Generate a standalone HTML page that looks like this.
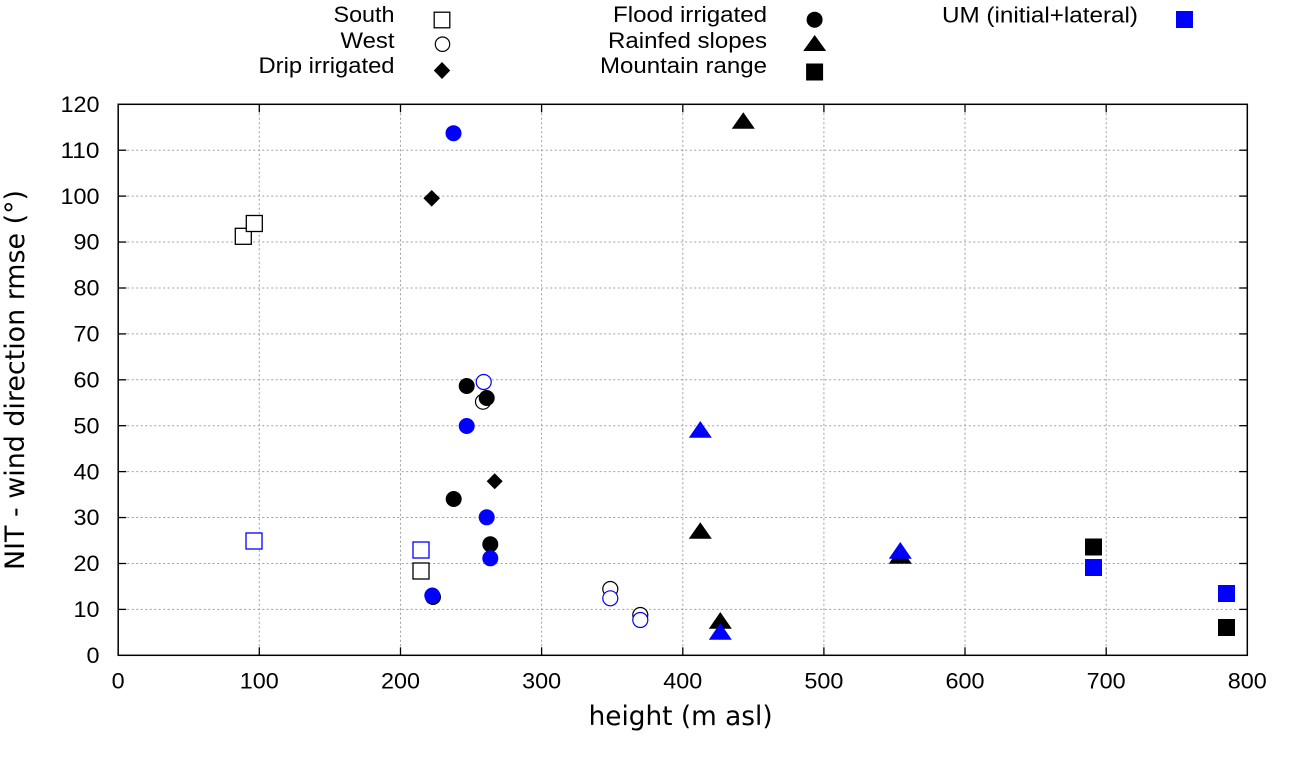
<!DOCTYPE html>
<html>
<head>
<meta charset="utf-8">
<style>
html,body{margin:0;padding:0;background:#fff;}
svg{display:block;}
text{font-family:"Liberation Sans",sans-serif;fill:#000;}
.t{font-size:22.5px;}
.lg{font-size:22.5px;}
.ax{font-family:"DejaVu Sans","Liberation Sans",sans-serif;font-size:27px;}
</style>
</head>
<body>
<svg width="1290" height="760" viewBox="0 0 1290 760" xmlns="http://www.w3.org/2000/svg">
<rect x="0" y="0" width="1290" height="760" fill="#fff"/>

<!-- grid -->
<g stroke="#a0a0a0" stroke-width="1" stroke-dasharray="2,2.5" fill="none">
<line x1="259.3" y1="104.3" x2="259.3" y2="655.3"/>
<line x1="400.5" y1="104.3" x2="400.5" y2="655.3"/>
<line x1="541.6" y1="104.3" x2="541.6" y2="655.3"/>
<line x1="682.8" y1="104.3" x2="682.8" y2="655.3"/>
<line x1="823.9" y1="104.3" x2="823.9" y2="655.3"/>
<line x1="965.0" y1="104.3" x2="965.0" y2="655.3"/>
<line x1="1106.2" y1="104.3" x2="1106.2" y2="655.3"/>
<line x1="118.2" y1="609.4" x2="1247.3" y2="609.4"/>
<line x1="118.2" y1="563.5" x2="1247.3" y2="563.5"/>
<line x1="118.2" y1="517.55" x2="1247.3" y2="517.55"/>
<line x1="118.2" y1="471.6" x2="1247.3" y2="471.6"/>
<line x1="118.2" y1="425.7" x2="1247.3" y2="425.7"/>
<line x1="118.2" y1="379.8" x2="1247.3" y2="379.8"/>
<line x1="118.2" y1="333.9" x2="1247.3" y2="333.9"/>
<line x1="118.2" y1="288.0" x2="1247.3" y2="288.0"/>
<line x1="118.2" y1="242.05" x2="1247.3" y2="242.05"/>
<line x1="118.2" y1="196.1" x2="1247.3" y2="196.1"/>
<line x1="118.2" y1="150.2" x2="1247.3" y2="150.2"/>
</g>

<!-- ticks -->
<g stroke="#000" stroke-width="1.3">
<line x1="259.3" y1="655.3" x2="259.3" y2="647.3"/><line x1="259.3" y1="104.3" x2="259.3" y2="112.3"/>
<line x1="400.5" y1="655.3" x2="400.5" y2="647.3"/><line x1="400.5" y1="104.3" x2="400.5" y2="112.3"/>
<line x1="541.6" y1="655.3" x2="541.6" y2="647.3"/><line x1="541.6" y1="104.3" x2="541.6" y2="112.3"/>
<line x1="682.8" y1="655.3" x2="682.8" y2="647.3"/><line x1="682.8" y1="104.3" x2="682.8" y2="112.3"/>
<line x1="823.9" y1="655.3" x2="823.9" y2="647.3"/><line x1="823.9" y1="104.3" x2="823.9" y2="112.3"/>
<line x1="965.0" y1="655.3" x2="965.0" y2="647.3"/><line x1="965.0" y1="104.3" x2="965.0" y2="112.3"/>
<line x1="1106.2" y1="655.3" x2="1106.2" y2="647.3"/><line x1="1106.2" y1="104.3" x2="1106.2" y2="112.3"/>
<line x1="118.2" y1="609.4" x2="126.2" y2="609.4"/><line x1="1247.3" y1="609.4" x2="1239.3" y2="609.4"/>
<line x1="118.2" y1="563.5" x2="126.2" y2="563.5"/><line x1="1247.3" y1="563.5" x2="1239.3" y2="563.5"/>
<line x1="118.2" y1="517.55" x2="126.2" y2="517.55"/><line x1="1247.3" y1="517.55" x2="1239.3" y2="517.55"/>
<line x1="118.2" y1="471.6" x2="126.2" y2="471.6"/><line x1="1247.3" y1="471.6" x2="1239.3" y2="471.6"/>
<line x1="118.2" y1="425.7" x2="126.2" y2="425.7"/><line x1="1247.3" y1="425.7" x2="1239.3" y2="425.7"/>
<line x1="118.2" y1="379.8" x2="126.2" y2="379.8"/><line x1="1247.3" y1="379.8" x2="1239.3" y2="379.8"/>
<line x1="118.2" y1="333.9" x2="126.2" y2="333.9"/><line x1="1247.3" y1="333.9" x2="1239.3" y2="333.9"/>
<line x1="118.2" y1="288.0" x2="126.2" y2="288.0"/><line x1="1247.3" y1="288.0" x2="1239.3" y2="288.0"/>
<line x1="118.2" y1="242.05" x2="126.2" y2="242.05"/><line x1="1247.3" y1="242.05" x2="1239.3" y2="242.05"/>
<line x1="118.2" y1="196.1" x2="126.2" y2="196.1"/><line x1="1247.3" y1="196.1" x2="1239.3" y2="196.1"/>
<line x1="118.2" y1="150.2" x2="126.2" y2="150.2"/><line x1="1247.3" y1="150.2" x2="1239.3" y2="150.2"/>
</g>

<!-- frame -->
<rect x="118.2" y="104.3" width="1129.1" height="551" fill="none" stroke="#000" stroke-width="1.5"/>

<!-- y tick labels -->
<g class="t" text-anchor="end">
<text x="99.5" y="663" textLength="13" lengthAdjust="spacingAndGlyphs">0</text>
<text x="99.5" y="617.1" textLength="26" lengthAdjust="spacingAndGlyphs">10</text>
<text x="99.5" y="571.2" textLength="26" lengthAdjust="spacingAndGlyphs">20</text>
<text x="99.5" y="525.2" textLength="26" lengthAdjust="spacingAndGlyphs">30</text>
<text x="99.5" y="479.3" textLength="26" lengthAdjust="spacingAndGlyphs">40</text>
<text x="99.5" y="433.4" textLength="26" lengthAdjust="spacingAndGlyphs">50</text>
<text x="99.5" y="387.5" textLength="26" lengthAdjust="spacingAndGlyphs">60</text>
<text x="99.5" y="341.6" textLength="26" lengthAdjust="spacingAndGlyphs">70</text>
<text x="99.5" y="295.7" textLength="26" lengthAdjust="spacingAndGlyphs">80</text>
<text x="99.5" y="249.7" textLength="26" lengthAdjust="spacingAndGlyphs">90</text>
<text x="99.5" y="203.8" textLength="39" lengthAdjust="spacingAndGlyphs">100</text>
<text x="99.5" y="157.9" textLength="39" lengthAdjust="spacingAndGlyphs">110</text>
<text x="99.5" y="112" textLength="39" lengthAdjust="spacingAndGlyphs">120</text>
</g>

<!-- x tick labels -->
<g class="t" text-anchor="middle">
<text x="118.2" y="688.5" textLength="13" lengthAdjust="spacingAndGlyphs">0</text>
<text x="259.3" y="688.5" textLength="39" lengthAdjust="spacingAndGlyphs">100</text>
<text x="400.5" y="688.5" textLength="39" lengthAdjust="spacingAndGlyphs">200</text>
<text x="541.6" y="688.5" textLength="39" lengthAdjust="spacingAndGlyphs">300</text>
<text x="682.8" y="688.5" textLength="39" lengthAdjust="spacingAndGlyphs">400</text>
<text x="823.9" y="688.5" textLength="39" lengthAdjust="spacingAndGlyphs">500</text>
<text x="965.0" y="688.5" textLength="39" lengthAdjust="spacingAndGlyphs">600</text>
<text x="1106.2" y="688.5" textLength="39" lengthAdjust="spacingAndGlyphs">700</text>
<text x="1247.3" y="688.5" textLength="39" lengthAdjust="spacingAndGlyphs">800</text>
</g>

<!-- axis titles -->
<text class="ax" x="680.6" y="725" text-anchor="middle" textLength="184" lengthAdjust="spacingAndGlyphs">height (m asl)</text>
<text class="ax" transform="translate(24,380) rotate(-90)" x="0" y="0" text-anchor="middle" textLength="380" lengthAdjust="spacingAndGlyphs">NIT - wind direction rmse (°)</text>

<!-- legend -->
<g class="lg" text-anchor="end">
<text x="394.5" y="22" textLength="61" lengthAdjust="spacingAndGlyphs">South</text>
<text x="394.5" y="48" textLength="54" lengthAdjust="spacingAndGlyphs">West</text>
<text x="394.5" y="73" textLength="136" lengthAdjust="spacingAndGlyphs">Drip irrigated</text>
<text x="767" y="22" textLength="154" lengthAdjust="spacingAndGlyphs">Flood irrigated</text>
<text x="767" y="48" textLength="159" lengthAdjust="spacingAndGlyphs">Rainfed slopes</text>
<text x="767" y="73" textLength="167" lengthAdjust="spacingAndGlyphs">Mountain range</text>
</g>
<text class="lg" x="942" y="22.5" textLength="196" lengthAdjust="spacingAndGlyphs">UM (initial+lateral)</text>

<!-- legend markers -->
<rect x="434.2" y="12.2" width="15.6" height="15.6" fill="#fff" stroke="#000" stroke-width="1.3"/>
<circle cx="442.5" cy="44.2" r="7.2" fill="#fff" stroke="#000" stroke-width="1.2"/>
<polygon points="442,62 450.2,70.5 442,79 433.8,70.5" fill="#000"/>
<circle cx="814.6" cy="19.7" r="8" fill="#000"/>
<polygon points="814.7,35 826.2,51 803.2,51" fill="#000"/>
<rect x="806.1" y="63.5" width="17" height="17" fill="#000"/>
<rect x="1176" y="11" width="17" height="17" fill="#0000ff"/>

<!-- ===== black series ===== -->
<g fill="#fff" stroke="#000" stroke-width="1.3">
<rect x="235.3" y="228.3" width="16" height="16"/>
<rect x="246.3" y="215.5" width="16" height="16"/>
<rect x="413" y="563" width="16" height="16"/>
</g>
<g fill="#fff" stroke="#000" stroke-width="1.2">
<circle cx="483" cy="401.7" r="7.5"/>
<circle cx="610.3" cy="589" r="7.5"/>
<circle cx="640.3" cy="615" r="7.5"/>
</g>
<g fill="#000">
<polygon points="431.7,190 440,198.3 431.7,206.6 423.4,198.3"/>
<polygon points="494.7,473.3 502.7,481.3 494.7,489.3 486.7,481.3"/>
</g>
<g fill="#000">
<circle cx="466.7" cy="386" r="8"/>
<circle cx="486.7" cy="398" r="8"/>
<circle cx="453.7" cy="499" r="8"/>
<circle cx="490.3" cy="544.3" r="8"/>
<circle cx="433" cy="597" r="8"/>
</g>
<g fill="#000">
<polygon points="743.3,112.3 754.8,128.7 731.8,128.7"/>
<polygon points="700.3,522.3 711.8,538.7 688.8,538.7"/>
<polygon points="900.3,547 911.8,563.7 888.8,563.7"/>
<polygon points="720.3,612 731.8,628.7 708.8,628.7"/>
</g>
<g fill="#000">
<rect x="1085" y="538.5" width="17" height="17"/>
<rect x="1218" y="619" width="17" height="17"/>
</g>

<!-- ===== blue series (UM) ===== -->
<g fill="#fff" stroke="#0000ff" stroke-width="1.3">
<rect x="246" y="533" width="16" height="16"/>
<rect x="413" y="542" width="16" height="16"/>
</g>
<g fill="#fff" stroke="#0000ff" stroke-width="1.2">
<circle cx="483.7" cy="382" r="7.5"/>
<circle cx="610.3" cy="598.3" r="7.5"/>
<circle cx="640.3" cy="620" r="7.5"/>
</g>
<g fill="#0000ff">
<circle cx="453.5" cy="133.2" r="8"/>
<circle cx="466.7" cy="426" r="8"/>
<circle cx="486.7" cy="517.3" r="8"/>
<circle cx="490.3" cy="558.3" r="8"/>
<circle cx="432.3" cy="595.5" r="8"/>
</g>
<g fill="#0000ff">
<polygon points="700.3,421 711.8,437.7 688.8,437.7"/>
<polygon points="900.3,542 911.8,558.7 888.8,558.7"/>
<polygon points="720.3,623 731.8,639.7 708.8,639.7"/>
</g>
<g fill="#0000ff">
<rect x="1085" y="559" width="17" height="17"/>
<rect x="1218" y="585" width="17" height="17"/>
</g>
</svg>
</body>
</html>
